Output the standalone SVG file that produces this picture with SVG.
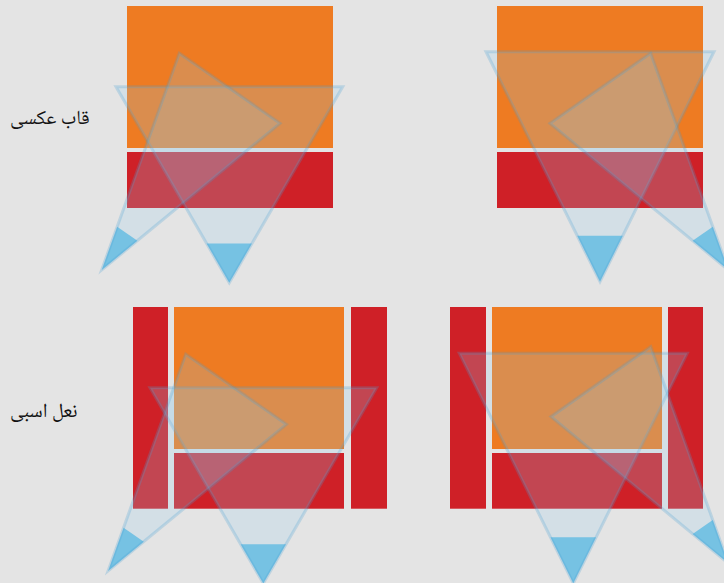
<svg xmlns="http://www.w3.org/2000/svg" width="724" height="583" viewBox="0 0 724 583">
<style>
.bg{fill:#e4e4e4}
.or{fill:#ee7b22}
.rd{fill:#cf2027}
.tf{fill:rgb(150,205,235);fill-opacity:0.22;stroke:none}
.tip{fill:#76c2e3;stroke:none}
.ts{fill:none;stroke:rgb(70,160,210);stroke-opacity:0.25;stroke-width:3;stroke-linejoin:miter}
.lbl{font-family:"Noto Naskh Arabic","Noto Sans Arabic","DejaVu Sans",sans-serif;font-size:20px;fill:#111}
</style>
<rect class="bg" x="0" y="0" width="724" height="583"/>
<g id="label-top"><text class="lbl" x="10" y="124">قاب عکسی</text></g>
<g id="label-bottom"><text class="lbl" x="10" y="417">نعل اسبی</text></g>

<g id="panel-top-left">
<rect class="or" x="127" y="6" width="206" height="142"/>
<rect class="rd" x="127" y="152" width="206" height="56"/>
</g>
<g id="panel-top-right">
<rect class="or" x="497" y="6" width="206" height="142"/>
<rect class="rd" x="497" y="152" width="206" height="56"/>
</g>
<g id="panel-bottom-left">
<rect class="rd" x="133" y="307" width="35" height="201.7"/>
<rect class="or" x="174" y="307" width="170" height="142"/>
<rect class="rd" x="174" y="453" width="170" height="55.7"/>
<rect class="rd" x="351" y="307" width="36" height="201.7"/>
</g>
<g id="panel-bottom-right">
<rect class="rd" x="450" y="307" width="36" height="201.7"/>
<rect class="or" x="492" y="307" width="170" height="142"/>
<rect class="rd" x="492" y="453" width="170" height="55.7"/>
<rect class="rd" x="668" y="307" width="35" height="201.7"/>
</g>

<g id="triangles">
<g id="tl-tri1">
<polygon class="tf" points="116,86.7 342.7,86.7 229.3,282.7"/>
<polygon class="tip" points="206.6,243.5 252,243.5 229.3,282.7"/>
<polygon class="ts" points="116,86.7 342.7,86.7 229.3,282.7"/>
</g>
<g id="tl-tri2">
<polygon class="tf" points="179.3,53.3 280,123.3 101.7,270"/>
<polygon class="tip" points="117.2,226.7 137.4,240.7 101.7,270"/>
<polygon class="ts" points="179.3,53.3 280,123.3 101.7,270"/>
</g>
<g id="tr-tri1">
<polygon class="tf" points="486,51.7 714,51.7 600,281.7"/>
<polygon class="tip" points="577.2,235.7 622.8,235.7 600,281.7"/>
<polygon class="ts" points="486,51.7 714,51.7 600,281.7"/>
</g>
<g id="tr-tri2">
<polygon class="tf" points="650.7,53.3 550,123.3 728.3,270"/>
<polygon class="tip" points="712.8,226.7 692.6,240.7 728.3,270"/>
<polygon class="ts" points="650.7,53.3 550,123.3 728.3,270"/>
</g>
<g id="bl-tri1">
<polygon class="tf" points="150,387.7 376.7,387.7 263.3,583.4"/>
<polygon class="tip" points="240.6,544.3 286,544.3 263.3,583.4"/>
<polygon class="ts" points="150,387.7 376.7,387.7 263.3,583.4"/>
</g>
<g id="bl-tri2">
<polygon class="tf" points="185.7,354.3 286.4,424.3 108.1,571"/>
<polygon class="tip" points="123.6,527.7 143.8,541.7 108.1,571"/>
<polygon class="ts" points="185.7,354.3 286.4,424.3 108.1,571"/>
</g>
<g id="br-tri1">
<polygon class="tf" points="459.3,353.3 687.3,353.3 573.3,583.3"/>
<polygon class="tip" points="550.5,537.3 596.1,537.3 573.3,583.3"/>
<polygon class="ts" points="459.3,353.3 687.3,353.3 573.3,583.3"/>
</g>
<g id="br-tri2">
<polygon class="tf" points="650.7,346.7 551,416.7 728.3,563.4"/>
<polygon class="tip" points="712.8,520.1 692.6,534.1 728.3,563.4"/>
<polygon class="ts" points="650.7,346.7 551,416.7 728.3,563.4"/>
</g>
</g>
</svg>
